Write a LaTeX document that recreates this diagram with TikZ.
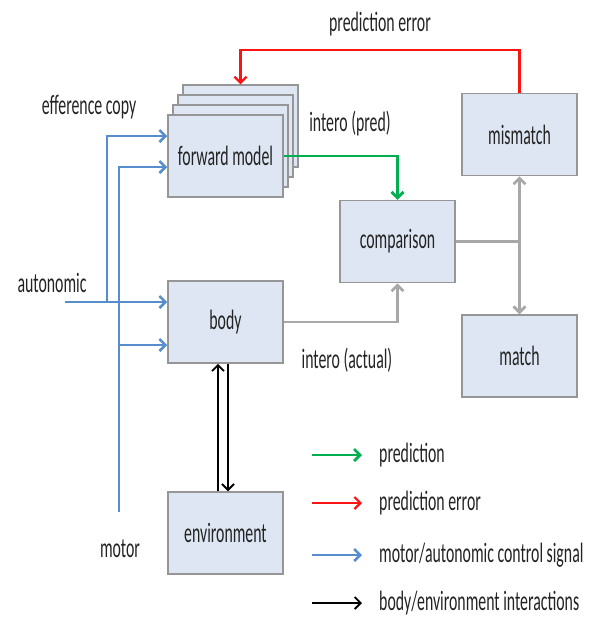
\documentclass[tikz,border=0pt]{standalone}
\usepackage{fontspec}
\setmainfont{Carlito}[FakeStretch=0.565]
\usetikzlibrary{positioning,arrows.meta,calc}
\definecolor{BoxFill}{RGB}{221,230,242}
\definecolor{BoxLine}{RGB}{150,150,150}
\definecolor{LinkGray}{RGB}{168,168,168}
\definecolor{PredGreen}{RGB}{0,176,80}
\definecolor{ErrRed}{RGB}{250,20,20}
\definecolor{CtrlBlue}{RGB}{86,142,205}
\definecolor{InkText}{RGB}{35,35,35}
\tikzset{
  tip/.style={-{Straight Barb[length=6pt,width=12pt]}},
  predflow/.style={tip,line width=2.8pt,draw=PredGreen},
  errflow/.style={tip,line width=2.2pt,draw=ErrRed},
  ctrlflow/.style={tip,line width=2.5pt,draw=CtrlBlue},
  grayflow/.style={tip,line width=2.8pt,draw=LinkGray},
  grayline/.style={line width=2.8pt,draw=LinkGray},
  envflow/.style={tip,line width=1.8pt,draw=black},
  box/.style={draw=BoxLine,fill=BoxFill,line width=1.5pt,
    minimum width=115pt,minimum height=82pt,inner sep=0pt,
    align=center,font=\fontsize{28}{32}\selectfont,text=InkText},
  lbl/.style={font=\fontsize{28}{32}\selectfont,text=InkText,inner sep=1pt},
  legtext/.style={lbl,anchor=west}
}
\begin{document}
\begin{tikzpicture}[x=1pt,y=-1pt]
  \useasboundingbox (0,0) rectangle (594,622);
  % forward model stack
  \foreach \k in {3,2,1}
    \node[box] (fwd\k) at ($(225.5,156)+(5*\k,-10*\k)$) {};
  \node[box] (fwd) at (225.5,156) {forward model};
  \node[box] (body) at (225.5,322) {body};
  \node[box] (env) at (225.5,533) {environment};
  \node[box] (comp) at (397.5,241.5) {comparison};
  \node[box] (mis) at (519.5,134.5) {mismatch};
  \node[box] (match) at (519.5,356) {match};

  % labels
  \node[lbl] (errlbl) at (380,24) {prediction error};
  \node[lbl] (predlbl) at (350,124) {intero (pred)};
  \node[lbl] (actlbl) at (347,360) {intero (actual)};
  \node[lbl] (autolbl) at (52,283) {autonomic};
  \node[lbl] (efflbl) at (89,107) {efference copy};
  \node[lbl] (motorlbl) at (120,549) {motor};

  % prediction and error
  \coordinate (errlevel) at (0,50);
  \draw[predflow] (fwd.east) -| (comp.north);
  \draw[errflow] (mis.north) |- (fwd3.north |- errlevel) -- (fwd3.north);

  % interoception and comparison
  \coordinate (split) at (mis.south |- comp.east);
  \draw[grayflow] (body.east) -| (comp.south);
  \draw[grayline] (comp.east) -- (split);
  \draw[grayflow] (split) -- (mis.south);
  \draw[grayflow] (split) -- (match.north);

  % control signals
  \coordinate (autoin) at (65,302);
  \coordinate (effA) at (107,302);
  \coordinate (motorin) at (119,512);
  \draw[ctrlflow] (autoin) -- (autoin -| body.west);
  \draw[ctrlflow] (effA) |- ($(fwd.west)+(0,-20)$);
  \draw[ctrlflow] (motorin) |- ($(fwd.west)+(0,11)$);
  \draw[ctrlflow] (motorin |- 0,345) -- ($(body.west)+(0,23)$);

  % body and environment
  \draw[envflow] ($(env.north)+(-7.5,0)$) -- ($(body.south)+(-7.5,0)$);
  \draw[envflow] ($(body.south)+(2.5,0)$) -- ($(env.north)+(2.5,0)$);

  % legend
  \node[legtext] (lg1) at (378,455) {prediction};
  \node[legtext] (lg2) at (378,503) {prediction error};
  \node[legtext] (lg3) at (378,555) {motor/autonomic control signal};
  \node[legtext] (lg4) at (378,603) {body/environment interactions};
  \foreach \n/\s in {lg1/predflow,lg2/errflow,lg3/ctrlflow,lg4/envflow}
    \draw[\s] ($(\n.west)+(-66,0)$) coordinate (\n a) -- ($(\n.west)+(-16,0)$);
\end{tikzpicture}
\end{document}
